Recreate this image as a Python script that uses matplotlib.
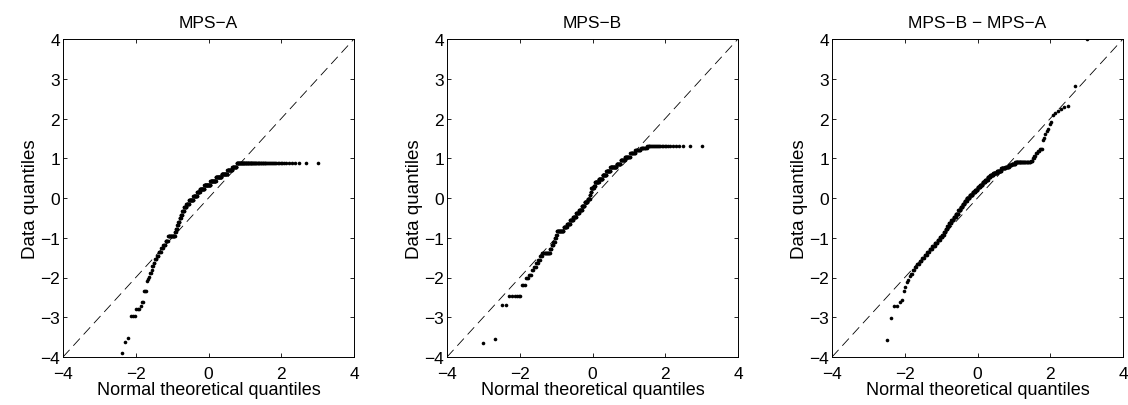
import numpy as np
import matplotlib
matplotlib.use("Agg")
import matplotlib.pyplot as plt
from statistics import NormalDist

# ---- data: sorted sample values as (level, count) runs ----
levels_a = [-4.80, -4.40, -4.15, -3.90, -3.62, -3.52, -2.98, -2.78, -2.72, -2.62,
            -2.35, -2.10, -2.05, -1.99, -1.88, -1.80, -1.72, -1.63, -1.54, -1.45,
            -1.35, -1.26, -1.17, -1.08, -0.96, -0.86, -0.77, -0.68, -0.60, -0.51,
            -0.42, -0.33, -0.23, -0.14, -0.04, 0.05, 0.14, 0.23, 0.33, 0.42,
            0.52, 0.61, 0.70, 0.78, 0.88]
counts_a = [1, 1, 1, 1, 1, 1, 3, 3, 1, 2,
            3, 1, 1, 1, 2, 1, 2, 2, 3, 3,
            4, 4, 5, 6, 18, 3, 4, 3, 4, 4,
            5, 6, 8, 10, 17, 15, 12, 19, 27, 24,
            24, 23, 18, 15, 88]

levels_b = [-3.65, -3.54, -2.68, -2.47, -2.18, -2.00, -1.93, -1.82, -1.73, -1.64,
            -1.55, -1.47, -1.38, -1.28, -1.19, -1.10, -1.01, -0.92, -0.83, -0.74,
            -0.65, -0.56, -0.47, -0.38, -0.29, -0.20, -0.11, -0.02, 0.07, 0.16,
            0.25, 0.31, 0.40, 0.49, 0.58, 0.67, 0.77, 0.86, 0.95, 1.04,
            1.12, 1.20, 1.25, 1.30]
counts_b = [1, 1, 2, 6, 3, 3, 3, 2, 3, 3,
            3, 3, 15, 4, 4, 4, 3, 2, 20, 11,
            11, 11, 12, 12, 12, 11, 13, 10, 3, 4,
            10, 6, 16, 16, 16, 16, 23, 14, 13, 15,
            12, 11, 10, 27]

levels_c = [-4.70, -4.30, -3.56, -3.02, -2.72, -2.62, -2.56, -2.35, -2.24, -2.11,
            -2.07, -1.95, -1.90, -1.82, -1.74, -1.66, -1.58, -1.50, -1.43, -1.36,
            -1.29, -1.21, -1.13, -1.05, -0.98, -0.92, -0.85, -0.77, -0.70, -0.63,
            -0.55, -0.47, -0.39, -0.31, -0.23, -0.15, -0.07, 0.00, 0.07, 0.14,
            0.21, 0.27, 0.33, 0.40, 0.46, 0.53, 0.59, 0.63, 0.69, 0.75,
            0.79, 0.82, 0.86, 0.90, 0.94, 1.00, 1.06, 1.12, 1.18, 1.24,
            1.46, 1.52, 1.60, 1.68, 1.74, 1.86, 1.91, 2.08, 2.15, 2.20,
            2.25, 2.30, 2.32, 2.81, 4.00]
counts_c = [1, 1, 1, 1, 2, 1, 1, 1, 1, 1,
            1, 1, 2, 2, 2, 3, 3, 4, 4, 4,
            5, 6, 6, 6, 6, 5, 5, 5, 5, 8,
            8, 8, 9, 9, 8, 8, 9, 12, 13, 11,
            11, 11, 11, 11, 11, 11, 12, 15, 15, 14,
            11, 8, 10, 31, 3, 2, 2, 2, 2, 3,
            1, 1, 1, 1, 1, 1, 1, 1, 1, 1,
            1, 1, 1, 1, 1]

titles = ["MPS\u2212A", "MPS\u2212B", "MPS\u2212B \u2212 MPS\u2212A"]
xlabel = "Normal theoretical quantiles"
ylabel = "Data quantiles"
x_ticks = [-4, -2, 0, 2, 4]
y_ticks = [-4, -3, -2, -1, 0, 1, 2, 3, 4]

plt.rcParams['font.family'] = ['Liberation Sans', 'DejaVu Sans']
plt.rcParams['lines.scale_dashes'] = False
plt.rcParams['axes.unicode_minus'] = True

fig = plt.figure(figsize=(11.28, 4.06), dpi=100)
lefts = [63 / 1128, 447 / 1128, 832 / 1128]
w = 291 / 1128
b = 48 / 406
h = 318 / 406

nd = NormalDist()
series = [(levels_a, counts_a), (levels_b, counts_b), (levels_c, counts_c)]
for k, (lv, ct) in enumerate(series):
    ax = fig.add_axes([lefts[k], b, w, h])
    y = np.repeat(np.array(lv), np.array(ct))
    n = len(y)
    x = np.array([nd.inv_cdf((i - 0.5) / n) for i in range(1, n + 1)])
    ax.plot([-4, 4], [-4, 4], color='black', lw=0.6, dashes=(7, 4))
    ax.plot(x, y, 'o', color='black', ms=2.6, mew=0, clip_on=True)
    ax.set_xlim(-4, 4)
    ax.set_ylim(-4, 4)
    ax.set_xticks(x_ticks)
    ax.set_yticks(y_ticks)
    ax.tick_params(direction='in', top=True, right=True, length=3, width=0.6,
                   labelsize=12.5)
    ax.tick_params(axis='x', pad=6.5)
    ax.tick_params(axis='y', pad=2)
    for s in ax.spines.values():
        s.set_linewidth(0.7)
    ax.set_title(titles[k], fontsize=12.5, pad=9)
    ax.set_xlabel(xlabel, fontsize=13, labelpad=0)
    ax.set_ylabel(ylabel, fontsize=13.5, labelpad=1)

fig.savefig("out.png", dpi=100)
